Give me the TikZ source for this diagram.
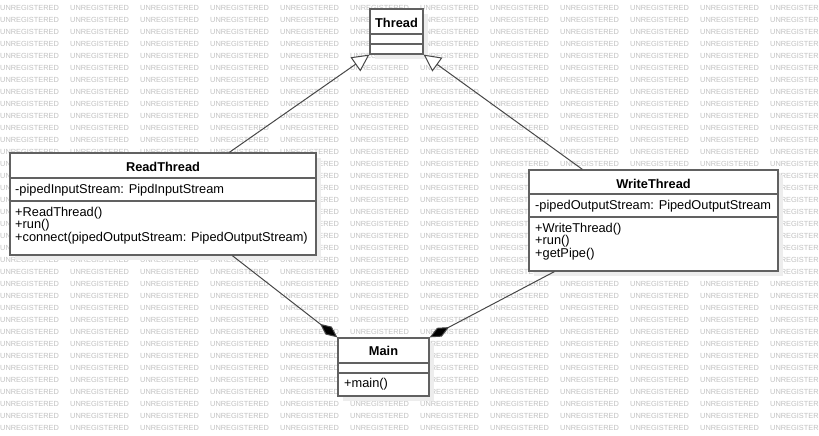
\documentclass[tikz,border=0pt]{standalone}
\usepackage{fontspec}
\setmainfont{Liberation Sans}
\usepackage{tikz}
\usetikzlibrary{arrows.meta,shadows}

\tikzset{
  wmtext/.style={anchor=west,inner sep=0pt,text=black!24,font=\fontsize{7.4}{8}\selectfont},
  classbox/.style={draw=black!62,line width=1.3pt,fill=white,inner sep=0pt,
    drop shadow={shadow xshift=5pt,shadow yshift=-5pt,fill=black!7,opacity=1}},
  classline/.style={draw=black!62,line width=1.3pt},
  titletext/.style={anchor=base,inner sep=0pt,font=\fontsize{12.8}{13}\selectfont\bfseries},
  membertext/.style={anchor=base west,inner sep=0pt,font=\fontsize{12.8}{13}\selectfont},
  genline/.style={draw=black!72,line width=1pt,-{Triangle[open,length=17pt,width=17pt,fill=white]}},
  compline/.style={draw=black!72,line width=1pt,-{Diamond[length=22pt,width=10pt,fill=black]}}
}

\begin{document}
\begin{tikzpicture}[x=1pt,y=-1pt]
\useasboundingbox (0,0) rectangle (819,436);
\fill[white] (0,0) rectangle (819,436);
% watermark
\foreach \r in {0,...,35}
  \foreach \c in {0,...,11}
    \node[wmtext] (wm-\r-\c) at (70*\c,8.3+12*\r) {UNREGISTERED};

% Thread
\node[classbox,minimum width=53pt,minimum height=45pt] (thread) at (396.5,31.5) {};
\draw[classline] (370,34) -- (423,34);
\draw[classline] (370,44) -- (423,44);
\node[titletext] (threadtitle) at (396.5,27.5) {Thread};

% ReadThread
\node[classbox,minimum width=306pt,minimum height=102pt] (read) at (163,204) {};
\draw[classline] (10,178) -- (316,178);
\draw[classline] (10,201) -- (316,201);
\node[titletext] (readtitle) at (163,171) {ReadThread};
\node[membertext] (readattr) at (15,193.5) {-pipedInputStream: PipdInputStream};
\node[membertext] (readop1) at (15,216) {+ReadThread()};
\node[membertext] (readop2) at (15,228.5) {+run()};
\node[membertext] (readop3) at (15,241) {+connect(pipedOutputStream: PipedOutputStream)};

% WriteThread
\node[classbox,minimum width=249pt,minimum height=101pt] (write) at (653.5,220.5) {};
\draw[classline] (529,194) -- (778,194);
\draw[classline] (529,217) -- (778,217);
\node[titletext] (writetitle) at (653.5,188) {WriteThread};
\node[membertext] (writeattr) at (535,209.5) {-pipedOutputStream: PipedOutputStream};
\node[membertext] (writeop1) at (535,232) {+WriteThread()};
\node[membertext] (writeop2) at (535,244.5) {+run()};
\node[membertext] (writeop3) at (535,257) {+getPipe()};

% Main
\node[classbox,minimum width=91pt,minimum height=58pt] (main) at (383.5,367) {};
\draw[classline] (338,363) -- (429,363);
\draw[classline] (338,373) -- (429,373);
\node[titletext] (maintitle) at (383.5,355) {Main};
\node[membertext] (mainop1) at (344,387.5) {+main()};

% relations
\draw[genline] ([xshift=220pt]read.north west) -- (thread.south west);
\draw[genline] ([xshift=54pt]write.north west) -- (thread.south east);
\draw[compline] ([xshift=223pt]read.south west) -- (main.north west);
\draw[compline] ([xshift=26pt]write.south west) -- (main.north east);
\end{tikzpicture}
\end{document}
